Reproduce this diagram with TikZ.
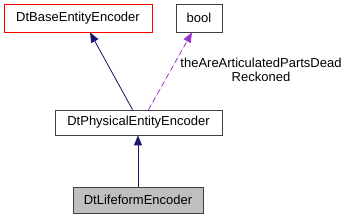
\documentclass[tikz,border=0pt]{standalone}
\usepackage{fontspec}
\setmainfont{Liberation Sans}
\usetikzlibrary{arrows.meta,positioning}
\definecolor{edgeblue}{HTML}{191970}
\definecolor{edgepurple}{HTML}{9A32CD}

\begin{document}
\begin{tikzpicture}[
x=1pt,y=-1pt,
box/.style={draw=black!75,line width=0.8pt,align=center,minimum height=28pt,inner xsep=5pt,font=\fontsize{13}{14}\selectfont},
arr/.style={-{Triangle[length=10pt,width=8pt]},line width=0.8pt,draw=edgeblue,fill=edgeblue},
dasharr/.style={-{Triangle[length=10pt,width=8pt]},line width=0.8pt,dashed,dash pattern=on 5pt off 4pt,draw=edgepurple,fill=edgepurple}]
\useasboundingbox (0,0) rectangle (348,219);
\node[box,draw=red,minimum width=148pt] (base) at (78,18) {DtBaseEntityEncoder};
\node[box,minimum width=46pt] (bool) at (199,18) {bool};
\node[box,minimum width=167pt,minimum height=25pt] (phys) at (138.5,122.5) {DtPhysicalEntityEncoder};
\node[box,fill=black!25,minimum width=130pt,minimum height=26pt] (life) at (138,200) {DtLifeformEncoder};
\node[font=\fontsize{13}{14}\selectfont,align=center,inner sep=0pt] (lbl) at (261,70) {theAreArticulatedPartsDead\\Reckoned};
\draw[arr] ([xshift=-6pt]phys.north) -- ([xshift=12pt]base.south);
\draw[dasharr] ([xshift=10pt]phys.north) -- ([xshift=-7pt]bool.south);
\draw[arr] (life.north) -- (life.north |- phys.south);
\end{tikzpicture}
\end{document}
